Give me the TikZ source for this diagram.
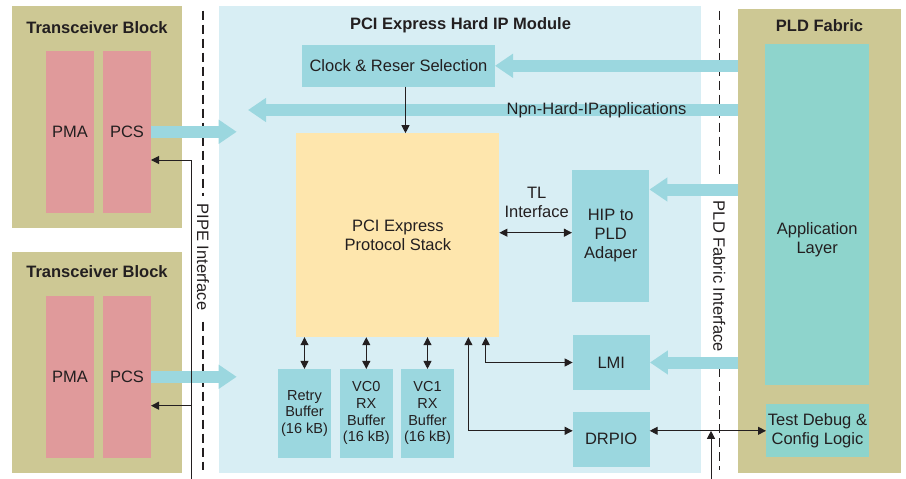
\documentclass[tikz,border=0pt]{standalone}
\usepackage{fontspec}
\setmainfont{Liberation Sans}
\usetikzlibrary{arrows.meta}
\definecolor{khaki}{HTML}{CDC894}
\definecolor{rose}{HTML}{E09A9B}
\definecolor{pale}{HTML}{D8EEF4}
\definecolor{aqua}{HTML}{9BD7DF}
\definecolor{mint}{HTML}{8ED4CC}
\definecolor{cream}{HTML}{FEE6AD}
\definecolor{ink}{HTML}{231F20}
\tikzset{
  box/.style={inner sep=0pt, outer sep=0pt, text=ink, align=center, font=\fontsize{16.5}{19}\selectfont},
  fabric/.style={box, fill=khaki},
  pinkbox/.style={box, fill=rose},
  tealbox/.style={box, fill=aqua},
  mintbox/.style={box, fill=mint},
  bufbox/.style={tealbox, font=\fontsize{14.5}{16.7}\selectfont},
  title/.style={text=ink, inner sep=0pt, font=\bfseries\fontsize{16.5}{19}\selectfont},
  plain/.style={text=ink, inner sep=0pt, align=center, font=\fontsize{16.5}{19}\selectfont},
  fat/.style={draw=aqua, line width=12pt, -{Triangle[length=18pt,width=23pt]}},
  wire/.style={draw=ink, line width=1pt, -{Triangle[length=8pt,width=8pt]}},
  wires/.style={draw=ink, line width=1pt, {Triangle[length=8pt,width=8pt]}-{Triangle[length=8pt,width=8pt]}},
  border/.style={draw=ink, line width=1.3pt, dash pattern=on 9pt off 5pt},
}
\begin{document}
\begin{tikzpicture}[x=1pt, y=-1pt]
\useasboundingbox (0,0) rectangle (906,479);
% outer blocks
\node[fabric, minimum width=170pt, minimum height=222pt] (tb1) at (97,117) {};
\node[fabric, minimum width=170pt, minimum height=221pt] (tb2) at (97,362.7) {};
\node[box, fill=pale, minimum width=482pt, minimum height=467pt] (hipmod) at (460,239.5) {};
\node[fabric, minimum width=163pt, minimum height=464pt] (pld) at (819.7,241.3) {};
\node[title] (tb1title) at (97,27.7) {Transceiver Block};
\node[title] (tb2title) at (97,272) {Transceiver Block};
\node[title] (hiptitle) at (460.5,25.7) {PCI Express Hard IP Module};
\node[title] (pldtitle) at (819.5,26) {PLD Fabric};
% interface lines
\coordinate (pipeA) at (203,10.7);
\coordinate (pipeB) at (203,196);
\coordinate (pipeC) at (203,321.7);
\coordinate (pipeD) at (203,470);
\draw[border] (pipeA) -- (pipeB);
\draw[border] (pipeC) -- (pipeD);
\node[plain, rotate=-90] (pipelabel) at (203,257) {PIPE Interface};
\coordinate (pldA) at (719.3,10.7);
\coordinate (pldB) at (719.3,176);
\coordinate (pldC) at (719.3,368);
\coordinate (pldD) at (719.3,470);
\draw[border] (pldA) -- (pldB);
\draw[border] (pldC) -- (pldD);
\node[plain, rotate=-90] (pldlabel) at (719.3,276.5) {PLD Fabric Interface};
% transceivers
\node[pinkbox, minimum width=48pt, minimum height=162pt] (pma1) at (70,131.8) {PMA};
\node[pinkbox, minimum width=48pt, minimum height=162pt] (pcs1) at (127,131.8) {PCS};
\node[pinkbox, minimum width=48pt, minimum height=162pt] (pma2) at (70,376.8) {PMA};
\node[pinkbox, minimum width=48pt, minimum height=162pt] (pcs2) at (127,376.8) {PCS};
% hard ip
\node[tealbox, minimum width=193pt, minimum height=41.7pt] (clk) at (398.5,65.8) {Clock \& Reser Selection};
\node[box, fill=cream, minimum width=203pt, minimum height=204pt] (stack) at (397.9,235.2) {PCI Express\\Protocol Stack};
\node[bufbox, minimum width=53pt, minimum height=88.7pt] (retry) at (304.5,413.3) {Retry\\Buffer\\(16 kB)};
\node[bufbox, minimum width=53pt, minimum height=88.7pt] (vc0) at (366.3,413.3) {VC0\\RX\\Buffer\\(16 kB)};
\node[bufbox, minimum width=53pt, minimum height=88.7pt] (vc1) at (427.5,413.3) {VC1\\RX\\Buffer\\(16 kB)};
\node[tealbox, minimum width=77.5pt, minimum height=131.7pt] (hip) at (610.7,235.8) {HIP to\\PLD\\Adaper};
\node[tealbox, minimum width=77.3pt, minimum height=55pt] (lmi) at (611.3,362.5) {LMI};
\node[tealbox, minimum width=77pt, minimum height=55pt] (drpio) at (611.2,439.2) {DRPIO};
\node[plain] (tl) at (536.7,202.5) {TL\\Interface};
% pld fabric
\node[mintbox, minimum width=103.7pt, minimum height=340.7pt] (app) at (817.2,214.7) {};
\node[plain] (applabel) at (817.2,240) {Application\\Layer};
\node[mintbox, minimum width=103pt, minimum height=53pt] (test) at (817.5,430.8) {Test Debug \&\\Config Logic};
% wide arrows
\coordinate (npnend) at (248,110);
\coordinate (pcs1end) at (236.7,131.8);
\coordinate (pcs2end) at (236.7,376.8);
\draw[fat] (pcs1) -- (pcs1end);
\draw[fat] (pcs2) -- (pcs2end);
\draw[fat] (pld.west |- clk.east) -- (clk.east);
\draw[fat] (pld.west |- npnend) -- (npnend);
\draw[fat] (pld.west |- 0,189.5) -- (hip.east |- 0,189.5);
\draw[fat] (pld.west |- lmi.east) -- (lmi.east);
\node[plain] (npn) at (596.5,110) {Npn-Hard-IPapplications};
% thin arrows
\coordinate (pipetop) at (191,160);
\coordinate (pipebot) at (191,479);
\draw[wire] (pipebot) -- (pipetop) -- (pipetop -| pcs1.east);
\draw[wire] (pipebot |- 0,405.7) -- (pcs2.east |- 0,405.7);
\draw[wire] ([xshift=7pt]clk.south) -- ([xshift=7pt]clk.south |- stack.north);
\draw[wires] (retry.north |- stack.south) -- (retry.north);
\draw[wires] (vc0.north |- stack.south) -- (vc0.north);
\draw[wires] (vc1.north |- stack.south) -- (vc1.north);
\draw[wires] (stack.east |- 0,232.7) -- (hip.west |- 0,232.7);
\draw[wires] (lmi.west) -| ([xshift=-13.6pt]stack.south east);
\draw[wires] (drpio.west |- test.west) -| ([xshift=-31pt]stack.south east);
\draw[wires] (drpio.east |- test.west) -- (test.west);
\coordinate (cfgbot) at (711,479);
\draw[wire] (cfgbot) -- (cfgbot |- test.west);
\end{tikzpicture}
\end{document}
